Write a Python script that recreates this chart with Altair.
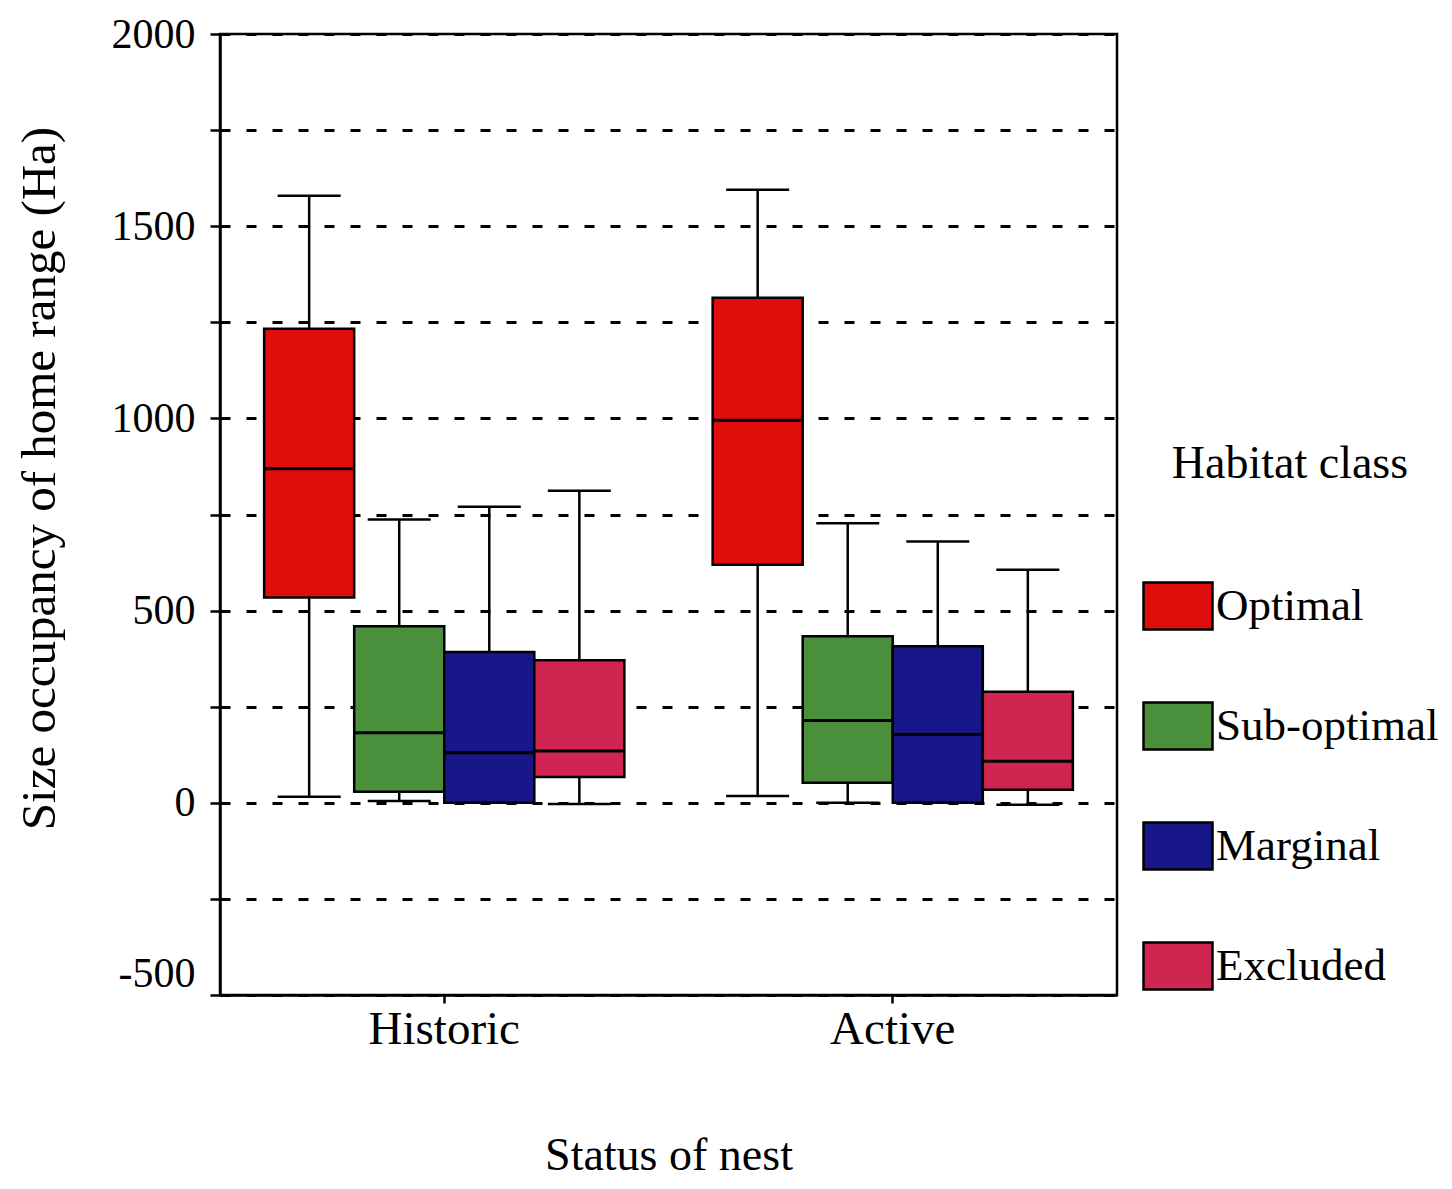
import altair as alt
import pandas as pd

status = ["Historic"] * 4 + ["Active"] * 4
habitat = ["Optimal", "Sub-optimal", "Marginal", "Excluded"] * 2
lower_whisker = [16, 5, 0, -3, 18, 0, 0, -5]
q1 = [534, 29, 0, 67, 619, 52, 0, 34]
median = [869, 182, 130, 135, 995, 214, 178, 108]
q3 = [1233, 459, 392, 371, 1314, 433, 407, 289]
upper_whisker = [1579, 737, 770, 812, 1595, 727, 680, 606]

status_order = ["Historic", "Active"]
habitat_order = ["Optimal", "Sub-optimal", "Marginal", "Excluded"]
habitat_colors = ["#E00D0D", "#4A8F3B", "#17178A", "#CF2550"]
y_ticks = [-500, -250, 0, 250, 500, 750, 1000, 1250, 1500, 1750, 2000]

df = pd.DataFrame({
    "status": status,
    "habitat": habitat,
    "lower": lower_whisker,
    "q1": q1,
    "median": median,
    "q3": q3,
    "upper": upper_whisker,
})

FONT = "Liberation Serif"

x_enc = alt.X(
    "status:N",
    sort=status_order,
    scale=alt.Scale(paddingInner=0, paddingOuter=0),
    axis=alt.Axis(
        title="Status of nest",
        labelAngle=0,
        labelFontSize=47,
        labelPadding=3,
        labelColor="black",
        tickSize=8,
        tickColor="black",
        tickWidth=2.5,
        domainColor="black",
        domainWidth=2.5,
        titleFontSize=46,
        titleFontWeight="normal",
        titleColor="black",
        titleBaseline="top",
        titleY=138,
        grid=False,
    ),
)
xoff = alt.XOffset(
    "habitat:N",
    sort=habitat_order,
    scale=alt.Scale(paddingInner=0, paddingOuter=0.49),
)

y_scale = alt.Scale(domain=[-500, 2000], nice=False, zero=False)
y_axis = alt.Axis(
    title="Size occupancy of home range (Ha)",
    values=y_ticks,
    labelExpr="datum.value % 500 == 0 ? '' + datum.value : ''",
    labelFontSize=42,
    labelColor="black",
    labelPadding=15,
    labelBaseline={"condition": {"test": "datum.value === -500", "value": "bottom"}, "value": "middle"},
    tickSize=10,
    tickColor="black",
    tickWidth=2.5,
    domainColor="black",
    domainWidth=2.5,
    grid=True,
    gridColor="black",
    gridDash=[10, 16],
    gridWidth=3,
    gridOpacity=1,
    titleFontSize=49,
    titleFontWeight="normal",
    titleColor="black",
    titleBaseline="alphabetic",
    titleX=-166,
    titleY=444,
)

base = alt.Chart(df)

whiskers = base.mark_rule(color="black", strokeWidth=2.5).encode(
    x=x_enc,
    xOffset=xoff,
    y=alt.Y("lower:Q", scale=y_scale, axis=y_axis),
    y2="upper:Q",
)

boxes = base.mark_bar(stroke="black", strokeWidth=2.5, opacity=1).encode(
    x=x_enc,
    xOffset=xoff,
    y=alt.Y("q1:Q", scale=y_scale),
    y2="q3:Q",
    color=alt.Color(
        "habitat:N",
        sort=habitat_order,
        scale=alt.Scale(domain=habitat_order, range=habitat_colors),
        legend=alt.Legend(
            title="Habitat class",
            orient="none",
            legendX=922,
            legendY=408,
            padding=0,
            titleFontSize=46,
            titleFontWeight="normal",
            titleColor="black",
            titleAnchor="middle",
            titlePadding=82,
            titleLimit=500,
            labelFontSize=45,
            labelColor="black",
            labelOffset=2,
            labelLimit=500,
            rowPadding=55,
            symbolType="M-1,-0.68H1V0.68H-1Z",
            symbolSize=4761,
            symbolStrokeColor="black",
            symbolStrokeWidth=2.5,
            symbolOpacity=1,
        ),
    ),
)

medians = base.mark_tick(color="black", thickness=3, size=90, opacity=1).encode(
    x=x_enc,
    xOffset=xoff,
    y=alt.Y("median:Q", scale=y_scale),
)

caps_low = base.mark_tick(color="black", thickness=2.5, size=63, opacity=1).encode(
    x=x_enc,
    xOffset=xoff,
    y=alt.Y("lower:Q", scale=y_scale),
)

caps_high = base.mark_tick(color="black", thickness=2.5, size=63, opacity=1).encode(
    x=x_enc,
    xOffset=xoff,
    y=alt.Y("upper:Q", scale=y_scale),
)

chart = (
    alt.layer(whiskers, boxes, medians, caps_low, caps_high)
    .properties(
        width=897,
        height=961,
        autosize=alt.AutoSizeParams(type="none"),
        padding={"left": 212, "top": 26, "right": 327, "bottom": 186},
    )
    .configure(font=FONT)
    .configure_view(stroke="black", strokeWidth=2.5)
)

chart.save("out.html", embed_options={"renderer": "svg", "actions": False})
